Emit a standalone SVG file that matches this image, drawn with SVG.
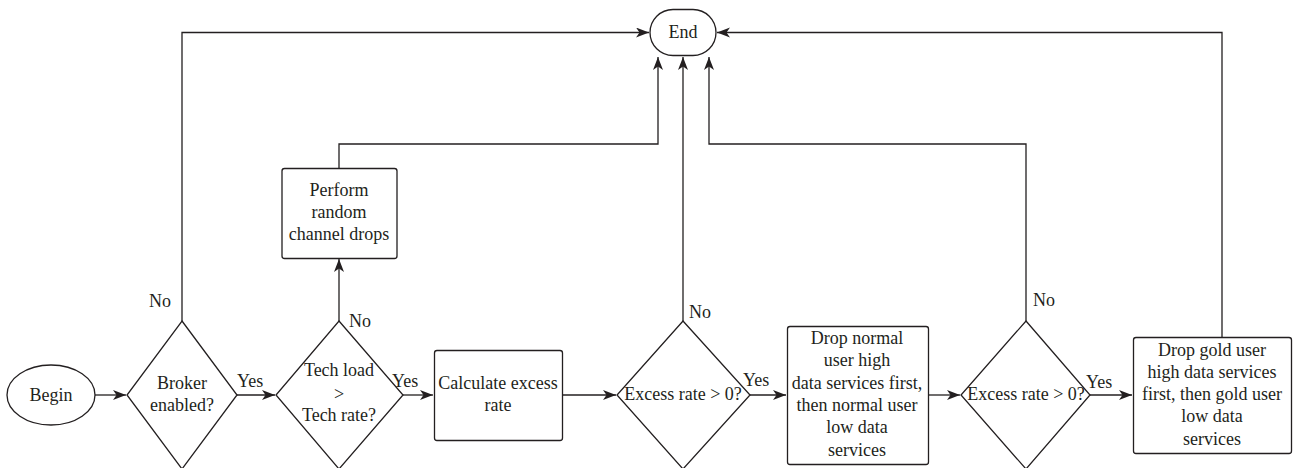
<svg xmlns="http://www.w3.org/2000/svg" width="1295" height="468" viewBox="0 0 1295 468">
  <defs>
    <marker id="arrow" markerWidth="14" markerHeight="11" refX="13" refY="5" orient="auto" markerUnits="userSpaceOnUse">
      <path d="M0,0 L13,5 L0,10 L3.5,5 Z" fill="#231f20"/>
    </marker>
    <style>
      .shape { fill: #ffffff; stroke: #231f20; stroke-width: 1.3; }
      .edge { fill: none; stroke: #231f20; stroke-width: 1.3; }
      .arr { marker-end: url(#arrow); }
      text { font-family: "Liberation Serif", "Times New Roman", serif; font-size: 18px; fill: #231f20; }
      .c { text-anchor: middle; }
    </style>
  </defs>
  <rect width="1295" height="468" fill="#ffffff"/>

  <!-- connectors -->
  <g id="connectors">
    <line class="edge arr" x1="95" y1="395" x2="126" y2="395"/>
    <line class="edge arr" x1="237" y1="395" x2="275" y2="395"/>
    <line class="edge arr" x1="403" y1="395" x2="433" y2="395"/>
    <line class="edge arr" x1="562" y1="395" x2="616" y2="395"/>
    <line class="edge arr" x1="750" y1="395" x2="786" y2="395"/>
    <line class="edge arr" x1="928" y1="395" x2="960" y2="395"/>
    <line class="edge arr" x1="1090" y1="395" x2="1132" y2="395"/>
    <!-- Broker: No -> End -->
    <polyline class="edge arr" points="182,321 182,32.5 649,32.5"/>
    <!-- Tech load: No -> random drops -->
    <line class="edge arr" x1="339" y1="321" x2="339" y2="259"/>
    <!-- random drops -> End -->
    <polyline class="edge arr" points="339,168 339,144 658,144 658,57"/>
    <!-- Excess 1: No -> End -->
    <line class="edge arr" x1="683" y1="321" x2="683" y2="57"/>
    <!-- Excess 2: No -> End -->
    <polyline class="edge arr" points="1026,321 1026,144 709,144 709,57"/>
    <!-- gold drops -> End -->
    <polyline class="edge arr" points="1222,337 1222,32.5 717,32.5"/>
  </g>

  <!-- edge labels -->
  <g id="labels">
    <text x="149" y="307">No</text>
    <text x="237" y="387">Yes</text>
    <text x="349" y="327">No</text>
    <text x="392" y="387">Yes</text>
    <text x="689" y="318">No</text>
    <text x="743" y="386">Yes</text>
    <text x="1033" y="306">No</text>
    <text x="1086" y="388">Yes</text>
  </g>

  <g id="begin">
    <ellipse class="shape" cx="51" cy="395" rx="44" ry="30"/>
    <text class="c" x="51" y="401">Begin</text>
  </g>

  <g id="end">
    <rect class="shape" x="650" y="9.5" width="66" height="46" rx="23" ry="23"/>
    <text class="c" x="683" y="38">End</text>
  </g>

  <g id="broker">
    <polygon class="shape" points="182,321 237,395 182,469 127,395"/>
    <text class="c" x="182" y="389">Broker</text>
    <text class="c" x="182" y="411">enabled?</text>
  </g>

  <g id="techload">
    <polygon class="shape" points="339,321 403,395 339,469 276,395"/>
    <text class="c" x="339" y="376">Tech load</text>
    <text class="c" x="339" y="400">&gt;</text>
    <text class="c" x="339" y="421">Tech rate?</text>
  </g>

  <g id="randomdrops">
    <rect class="shape" x="282" y="168.5" width="115" height="90" rx="2.5"/>
    <text class="c" x="339" y="196">Perform</text>
    <text class="c" x="339" y="218">random</text>
    <text class="c" x="339" y="240">channel drops</text>
  </g>

  <g id="calculate">
    <rect class="shape" x="434.5" y="350.5" width="128" height="90" rx="2.5"/>
    <text class="c" x="498" y="389">Calculate excess</text>
    <text class="c" x="498" y="411">rate</text>
  </g>

  <g id="excess1">
    <polygon class="shape" points="683,321 750,395 683,469 617,395"/>
    <text class="c" x="683" y="400">Excess rate &gt; 0?</text>
  </g>

  <g id="normaldrops">
    <rect class="shape" x="787.5" y="326.5" width="141" height="138" rx="2.5"/>
    <text class="c" x="857" y="344">Drop normal</text>
    <text class="c" x="857" y="366">user high</text>
    <text class="c" x="857" y="389">data services first,</text>
    <text class="c" x="857" y="411">then normal user</text>
    <text class="c" x="857" y="433">low data</text>
    <text class="c" x="857" y="456">services</text>
  </g>

  <g id="excess2">
    <polygon class="shape" points="1026,321 1090,395 1026,469 961,395"/>
    <text class="c" x="1026" y="400">Excess rate &gt; 0?</text>
  </g>

  <g id="golddrops">
    <rect class="shape" x="1133.5" y="337.5" width="158" height="116" rx="2.5"/>
    <text class="c" x="1212" y="356">Drop gold user</text>
    <text class="c" x="1212" y="378">high data services</text>
    <text class="c" x="1212" y="400">first, then gold user</text>
    <text class="c" x="1212" y="422">low data</text>
    <text class="c" x="1212" y="445">services</text>
  </g>
</svg>
